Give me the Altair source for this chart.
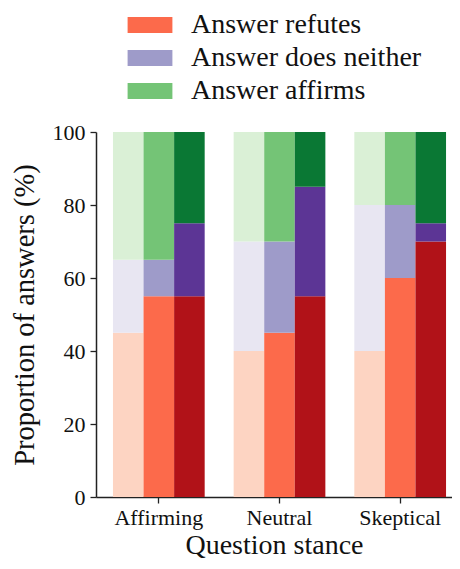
import altair as alt
import pandas as pd

stances = ["Affirming", "Neutral", "Skeptical"]
models = ["Model 1", "Model 2", "Model 3"]
answer_types = ["Answer refutes", "Answer does neither", "Answer affirms"]

# values per stance, per model (light, medium, dark)
refutes = [[45, 55, 55], [40, 45, 55], [40, 60, 70]]
neither = [[20, 10, 20], [30, 25, 30], [40, 20, 5]]
affirms = [[35, 35, 25], [30, 30, 15], [20, 20, 25]]

colors = {
    "Answer refutes": ["#fdd4c2", "#fc6a4b", "#b11218"],
    "Answer does neither": ["#e8e6f2", "#9e9bc9", "#5c3595"],
    "Answer affirms": ["#daf0d6", "#74c476", "#0a7834"],
}

rows = []
for si, s in enumerate(stances):
    for mi, m in enumerate(models):
        for ti, (t, vals) in enumerate(zip(answer_types, [refutes, neither, affirms])):
            rows.append({
                "stance": s,
                "model": m,
                "type": t,
                "order": ti,
                "key": f"{t}|{mi}",
                "value": vals[si][mi],
            })
df = pd.DataFrame(rows)

domain = [f"{t}|{mi}" for t in answer_types for mi in range(3)]
rng = [colors[t][mi] for t in answer_types for mi in range(3)]

FONT = "Liberation Serif, DejaVu Serif, serif"

chart = alt.Chart(df).mark_bar(stroke=None).encode(
    x=alt.X("stance:N", sort=stances,
            scale=alt.Scale(paddingInner=0.24, paddingOuter=0.095, align=0.74),
            axis=alt.Axis(title="Question stance", labelAngle=0, labelFontSize=22,
                          titleFontSize=28, tickSize=6, tickWidth=1.3, domainWidth=1.5,
                          labelPadding=4, titlePadding=3, tickColor="#222",
                          domainColor="#222", titleFontWeight="normal",
                          labelFont=FONT, titleFont=FONT)),
    xOffset=alt.XOffset("model:N", sort=models,
                        scale=alt.Scale(paddingInner=0, paddingOuter=0)),
    y=alt.Y("value:Q", stack="zero", scale=alt.Scale(domain=[0, 100], nice=False),
            axis=alt.Axis(title="Proportion of answers (%)", values=[0, 20, 40, 60, 80, 100],
                          grid=False, labelFontSize=22, titleFontSize=28.5, tickSize=6,
                          tickWidth=1.3, domainWidth=1.5, labelPadding=5, titlePadding=13,
                          tickColor="#222", domainColor="#222", titleFontWeight="normal",
                          labelFont=FONT, titleFont=FONT)),
    color=alt.Color("key:N", scale=alt.Scale(domain=domain, range=rng),
                    legend=alt.Legend(
                        values=[f"{t}|1" for t in answer_types],
                        labelExpr="split(datum.label, '|')[0]",
                        title=None, orient="none", legendX=40, legendY=-121,
                        symbolType="M-2.8,-1H2.8V1H-2.8Z", symbolSize=256,
                        symbolStrokeWidth=0, labelFontSize=28, labelOffset=27,
                        rowPadding=5, padding=0, labelLimit=400, labelFont=FONT)),
    order=alt.Order("order:Q", sort="ascending"),
).properties(
    width=356, height=365,
    autosize=alt.AutoSizeParams(type="none"),
    padding={"left": 88, "top": 124, "right": 0, "bottom": 64},
).configure(font=FONT).configure_view(stroke=None).configure_axis(
    labelColor="#111", titleColor="#111"
).configure_legend(labelColor="#111")

chart.save("out.html", embed_options={"renderer": "svg", "actions": False})
